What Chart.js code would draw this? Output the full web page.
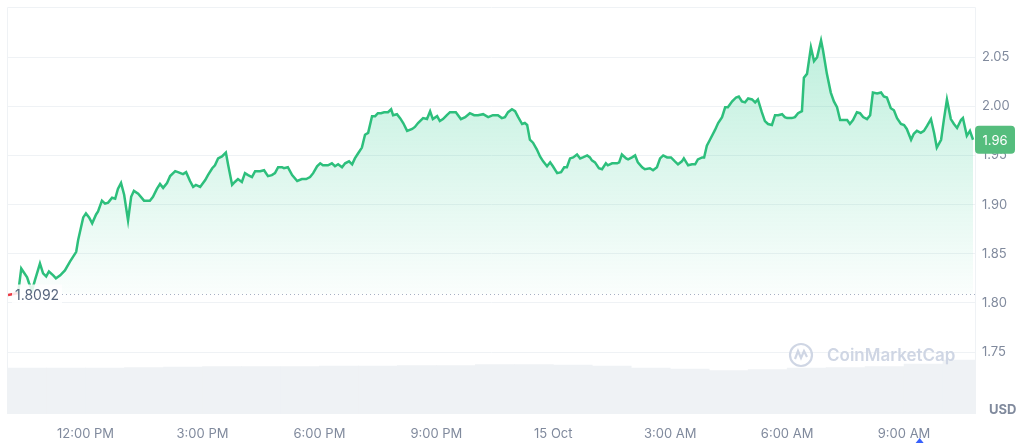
<!DOCTYPE html>
<html>
<head>
<meta charset="utf-8">
<script src="https://cdn.jsdelivr.net/npm/chart.js@4.4.0/dist/chart.umd.min.js"></script>
<style>
  html, body { margin: 0; padding: 0; background: #fff; }
  #wrap { width: 1024px; height: 443px; position: relative; }
</style>
</head>
<body>
<div id="wrap"><canvas id="priceChart"></canvas></div>
<script>
// hours since 14 Oct 00:00 (24 = 15 Oct midnight)
var times = [
    10.01,10.27,10.35,10.50,10.55,10.63,10.70,10.83,10.91,10.99,
    11.06,11.17,11.24,11.35,11.47,11.60,11.76,11.81,11.94,12.01,
    12.09,12.17,12.27,12.32,12.42,12.50,12.58,12.68,12.76,12.83,
    12.91,12.99,13.09,13.17,13.24,13.35,13.50,13.65,13.73,13.83,
    13.91,13.99,14.09,14.17,14.30,14.37,14.50,14.58,14.68,14.76,
    14.83,14.94,15.07,15.14,15.25,15.32,15.40,15.50,15.60,15.66,
    15.76,15.83,15.91,16.01,16.09,16.17,16.27,16.35,16.48,16.58,
    16.68,16.78,16.86,16.94,17.04,17.09,17.19,17.30,17.43,17.55,
    17.66,17.76,17.84,17.94,18.02,18.09,18.22,18.32,18.40,18.48,
    18.58,18.66,18.76,18.84,18.91,18.99,19.09,19.17,19.25,19.35,
    19.43,19.50,19.58,19.66,19.76,19.84,19.89,19.99,20.07,20.15,
    20.25,20.38,20.45,20.53,20.66,20.76,20.84,20.91,21.02,21.09,
    21.17,21.27,21.35,21.50,21.63,21.74,21.86,21.97,22.07,22.20,
    22.33,22.45,22.58,22.68,22.76,22.84,22.94,23.02,23.10,23.20,
    23.27,23.33,23.40,23.48,23.58,23.66,23.74,23.84,23.92,23.99,
    24.10,24.20,24.28,24.35,24.43,24.51,24.61,24.69,24.76,24.87,
    24.94,24.99,25.07,25.17,25.25,25.35,25.40,25.51,25.64,25.69,
    25.76,25.87,25.92,26.02,26.10,26.17,26.28,26.35,26.48,26.56,
    26.66,26.74,26.82,26.92,27.02,27.12,27.20,27.30,27.35,27.46,
    27.56,27.64,27.71,27.82,27.87,27.94,28.02,28.15,28.23,28.33,
    28.41,28.48,28.59,28.69,28.76,28.84,28.92,29.00,29.10,29.18,
    29.25,29.35,29.43,29.51,29.61,29.69,29.77,29.87,29.94,30.00,
    30.12,30.20,30.28,30.38,30.43,30.51,30.61,30.69,30.77,30.87,
    30.92,31.02,31.12,31.20,31.28,31.36,31.43,31.54,31.61,31.69,
    31.79,31.87,31.95,32.05,32.13,32.20,32.31,32.41,32.48,32.56,
    32.66,32.74,32.82,32.92,33.00,33.07,33.18,33.25,33.33,33.43,
    33.51,33.59,33.69,33.77,33.84,33.95,34.02,34.10,34.20,34.28,
    34.36,34.46,34.51,34.61,34.69,34.77
];
var prices = [
    1.808,1.810,1.835,1.826,1.820,1.813,1.823,1.840,1.830,1.827,
    1.832,1.828,1.825,1.828,1.833,1.842,1.852,1.864,1.887,1.891,
    1.887,1.881,1.890,1.893,1.904,1.901,1.902,1.907,1.906,1.916,
    1.922,1.910,1.884,1.908,1.914,1.911,1.904,1.904,1.908,1.916,
    1.921,1.917,1.922,1.929,1.934,1.933,1.931,1.933,1.924,1.918,
    1.920,1.918,1.925,1.930,1.937,1.940,1.947,1.949,1.953,1.940,
    1.920,1.923,1.926,1.923,1.932,1.930,1.928,1.934,1.934,1.935,
    1.929,1.930,1.932,1.938,1.938,1.937,1.938,1.930,1.924,1.926,
    1.926,1.928,1.932,1.939,1.942,1.940,1.940,1.942,1.939,1.941,
    1.938,1.942,1.944,1.941,1.947,1.952,1.958,1.971,1.973,1.990,
    1.990,1.993,1.993,1.994,1.994,1.997,1.991,1.992,1.988,1.983,
    1.975,1.977,1.979,1.983,1.988,1.987,1.995,1.987,1.990,1.985,
    1.987,1.991,1.994,1.994,1.987,1.989,1.993,1.991,1.991,1.992,
    1.989,1.991,1.991,1.988,1.989,1.994,1.997,1.995,1.989,1.982,
    1.983,1.981,1.966,1.963,1.956,1.949,1.944,1.939,1.943,1.939,
    1.932,1.933,1.938,1.938,1.947,1.948,1.951,1.947,1.948,1.950,
    1.948,1.945,1.943,1.937,1.936,1.942,1.940,1.942,1.942,1.943,
    1.951,1.947,1.946,1.948,1.950,1.943,1.938,1.936,1.937,1.935,
    1.938,1.947,1.950,1.948,1.948,1.944,1.941,1.944,1.947,1.940,
    1.941,1.941,1.946,1.948,1.948,1.960,1.966,1.976,1.983,1.989,
    1.999,1.999,2.005,2.009,2.010,2.005,2.004,2.008,2.007,2.004,
    2.007,1.994,1.985,1.982,1.981,1.991,1.991,1.992,1.989,1.988,
    1.988,1.989,1.993,1.995,2.029,2.033,2.060,2.046,2.050,2.067,
    2.057,2.033,2.014,2.005,1.999,1.986,1.986,1.986,1.982,1.986,
    1.994,1.993,1.989,1.987,1.991,2.014,2.013,2.014,2.010,2.009,
    1.998,1.996,1.988,1.982,1.981,1.977,1.966,1.972,1.975,1.973,
    1.975,1.980,1.987,1.973,1.958,1.966,1.986,2.007,1.987,1.982,
    1.978,1.986,1.988,1.970,1.975,1.966
];
// hourly volume (M USD), bar centre times
var volumeTimes = [10.5,11.5,12.5,13.5,14.5,15.5,16.5,17.5,18.5,19.5,20.5,21.5,22.5,
                   23.5,24.5,25.5,26.5,27.5,28.5,29.5,30.5,31.5,32.5,33.5,34.5];
var volumes = [46,46,46,46.5,47,47.3,47.5,47.5,47.8,48,48.3,48.5,49.5,
               49.5,49,48,46,45,43.5,44.5,46,46.5,47.5,50,54];

var openPrice = 1.8092;
var yTickValues = [1.75, 1.80, 1.85, 1.90, 1.95, 2.00, 2.05];
var xTickValues = [12, 15, 18, 21, 24, 27, 30, 33];
var xTickLabels = ['12:00 PM', '3:00 PM', '6:00 PM', '9:00 PM', '15 Oct', '3:00 AM', '6:00 AM', '9:00 AM'];

var green = '#2dbf7c';
var red = '#ea3943';
var gray = '#808a9d';
var gridColor = '#eff2f5';
var fontFamily = 'Inter, "Noto Sans", sans-serif';

var pricePoints = times.map(function (t, i) { return { x: t, y: prices[i] }; });
var volumePoints = volumeTimes.map(function (t, i) { return { x: t, y: volumes[i] }; });

var decorPlugin = {
    id: 'cmcDecor',
    beforeDatasetsDraw: function (chart) {
        var ctx = chart.ctx, a = chart.chartArea;
        ctx.save();
        ctx.strokeStyle = gridColor;
        ctx.lineWidth = 1;
        ctx.beginPath();
        ctx.moveTo(a.left - 0.5, a.bottom);
        ctx.lineTo(a.left - 0.5, a.top - 0.5);
        ctx.lineTo(a.right + 0.5, a.top - 0.5);
        ctx.lineTo(a.right + 0.5, a.bottom);
        ctx.stroke();
        ctx.restore();
    },
    afterDatasetsDraw: function (chart) {
        var ctx = chart.ctx, a = chart.chartArea;
        var yScale = chart.scales.y;
        var yb = Math.round(yScale.getPixelForValue(openPrice)) + 0.5;
        ctx.save();
        // dotted open-price line
        ctx.strokeStyle = '#a6b0c3';
        ctx.lineWidth = 1;
        ctx.setLineDash([1, 3]);
        ctx.beginPath();
        ctx.moveTo(a.left + 54, yb);
        ctx.lineTo(a.right, yb);
        ctx.stroke();
        ctx.setLineDash([]);
        // open price label
        ctx.fillStyle = 'rgba(255,255,255,0.85)';
        ctx.fillRect(a.left + 4, yb - 10, 50, 21);
        ctx.fillStyle = '#58667e';
        ctx.font = '14px ' + fontFamily;
        ctx.textAlign = 'left';
        ctx.textBaseline = 'middle';
        ctx.fillText(openPrice.toFixed(4), a.left + 7, yb + 1);
        // watermark
        var wx = 801, wy = 355;
        ctx.strokeStyle = '#cfd6e4';
        ctx.fillStyle = '#cfd6e4';
        ctx.lineWidth = 2.2;
        ctx.beginPath();
        ctx.arc(wx, wy, 11, 0, Math.PI * 2);
        ctx.stroke();
        ctx.beginPath();
        ctx.moveTo(wx - 6, wy + 4);
        ctx.lineTo(wx - 3, wy - 4);
        ctx.lineTo(wx, wy + 3);
        ctx.lineTo(wx + 3, wy - 4);
        ctx.lineTo(wx + 6, wy + 2);
        ctx.stroke();
        ctx.font = '600 17px ' + fontFamily;
        ctx.textBaseline = 'middle';
        ctx.fillText('CoinMarketCap', wx + 26, wy + 1);
        ctx.restore();
    },
    afterDraw: function (chart) {
        var ctx = chart.ctx, a = chart.chartArea;
        var yScale = chart.scales.y;
        var last = prices[prices.length - 1];
        var yl = yScale.getPixelForValue(last);
        ctx.save();
        // current price badge
        ctx.fillStyle = '#55bd7d';
        ctx.beginPath();
        ctx.roundRect(a.right, yl - 14, 40, 28, 4);
        ctx.fill();
        ctx.fillStyle = '#ffffff';
        ctx.font = '13px ' + fontFamily;
        ctx.textAlign = 'center';
        ctx.textBaseline = 'middle';
        ctx.fillText((Math.floor(last * 100) / 100).toFixed(2), a.right + 20, yl + 1);
        // currency
        ctx.fillStyle = gray;
        ctx.font = 'bold 13px ' + fontFamily;
        ctx.textAlign = 'left';
        ctx.fillText('USD', a.right + 14, a.bottom - 4);
        // small marker under the last tick
        var xc = chart.scales.x.getPixelForValue(33.4);
        ctx.fillStyle = '#3861fb';
        ctx.beginPath();
        ctx.moveTo(xc - 4, 443);
        ctx.lineTo(xc, 438);
        ctx.lineTo(xc + 4, 443);
        ctx.closePath();
        ctx.fill();
        ctx.restore();
    }
};

var ctx = document.getElementById('priceChart').getContext('2d');
var priceChart = new Chart(ctx, {
    type: 'line',
    data: {
        datasets: [{
            label: 'Price',
            data: pricePoints,
            borderColor: green,
            borderWidth: 2.5,
            pointRadius: 0,
            tension: 0,
            fill: { value: openPrice },
            backgroundColor: function (context) {
                var chart = context.chart;
                var area = chart.chartArea;
                if (!area) return 'rgba(22,199,132,0.1)';
                var yb = chart.scales.y.getPixelForValue(openPrice);
                var g = chart.ctx.createLinearGradient(0, area.top + 30, 0, yb);
                g.addColorStop(0, 'rgba(22,199,132,0.28)');
                g.addColorStop(1, 'rgba(22,199,132,0.02)');
                return g;
            },
            segment: {
                borderColor: function (s) {
                    return s.p0.parsed.y < openPrice ? red : undefined;
                }
            },
            order: 0
        }, {
            type: 'bar',
            label: 'Volume',
            data: volumePoints,
            yAxisID: 'yVol',
            backgroundColor: '#eff2f5',
            borderWidth: 0,
            barPercentage: 1,
            categoryPercentage: 1,
            order: 1
        }]
    },
    options: {
        responsive: true,
        maintainAspectRatio: false,
        devicePixelRatio: 1,
        animation: false,
        layout: { padding: { left: 8, top: 8, right: 0, bottom: 0 } },
        plugins: {
            legend: { display: false },
            tooltip: { enabled: false }
        },
        scales: {
            x: {
                type: 'linear',
                min: 10.01,
                max: 34.82,
                offset: false,
                grid: { display: false },
                border: { display: false },
                afterBuildTicks: function (scale) {
                    scale.ticks = xTickValues.map(function (v) { return { value: v }; });
                },
                afterFit: function (scale) {
                    scale.height = 29;
                    scale.paddingLeft = 0;
                    scale.paddingRight = 0;
                },
                ticks: {
                    autoSkip: false,
                    maxRotation: 0,
                    padding: 4,
                    color: gray,
                    font: { family: fontFamily, size: 13 },
                    callback: function (value) {
                        var i = xTickValues.indexOf(value);
                        return i >= 0 ? xTickLabels[i] : '';
                    }
                }
            },
            y: {
                position: 'right',
                min: 1.687,
                max: 2.10,
                grid: { color: gridColor, drawTicks: false },
                border: { display: false },
                afterBuildTicks: function (scale) {
                    scale.ticks = yTickValues.map(function (v) { return { value: v }; });
                },
                afterFit: function (scale) {
                    scale.width = 49;
                    scale.paddingTop = 0;
                    scale.paddingBottom = 0;
                },
                ticks: {
                    padding: 7,
                    color: gray,
                    font: { family: fontFamily, size: 13 },
                    callback: function (value) { return value.toFixed(2); }
                }
            },
            yVol: {
                display: false,
                min: 0,
                max: 406
            }
        }
    },
    plugins: [decorPlugin]
});
</script>
</body>
</html>
